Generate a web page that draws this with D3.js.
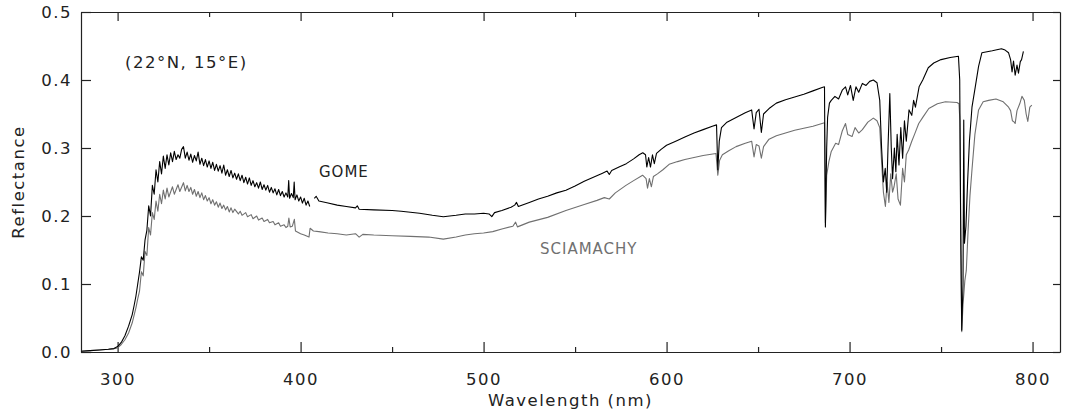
<!DOCTYPE html>
<meta charset="utf-8">
<script src="https://d3js.org/d3.v7.min.js"></script>
<style>
  body { margin: 0; background: #fff; }
  text { font-family: "DejaVu Sans", sans-serif; letter-spacing: 1.5px; fill: #222; }
</style>
<svg id="chart" width="1066" height="410"></svg>
<script>

// Reflectance spectra: [wavelength nm, reflectance]
const gomeSpectrum = [
  [280,0.001],[285,0.002],[290,0.003],[295,0.004],[298,0.005],[300,0.008],[302,0.014],[304,0.024],
  [306,0.038],[308,0.055],[309,0.068],[310,0.082],[311,0.1],[312,0.118],[313,0.14],[314,0.135],
  [315,0.165],[316,0.179],[317,0.215],[318,0.2],[319,0.245],[320,0.232],[321,0.268],[322,0.25],
  [323,0.28],[324,0.262],[325,0.288],[326,0.27],[327,0.29],[328,0.275],[329,0.293],[330,0.28],
  [331,0.295],[332,0.283],[333,0.29],[334,0.285],[335,0.298],[336,0.302],[337,0.285],[338,0.294],
  [339,0.282],[340,0.291],[341,0.279],[342,0.289],[343,0.281],[344,0.294],[345,0.276],[346,0.285],
  [347,0.274],[348,0.283],[349,0.272],[350,0.281],[351,0.27],[352,0.279],[353,0.267],[354,0.276],
  [355,0.266],[356,0.274],[357,0.263],[358,0.275],[359,0.26],[360,0.268],[361,0.258],[362,0.267],
  [363,0.256],[364,0.263],[365,0.254],[366,0.262],[367,0.252],[368,0.26],[369,0.249],[370,0.257],
  [371,0.247],[372,0.256],[373,0.245],[374,0.252],[375,0.243],[376,0.249],[377,0.241],[378,0.25],
  [379,0.239],[380,0.246],[381,0.238],[382,0.245],[383,0.235],[384,0.242],[385,0.234],[386,0.24],
  [387,0.231],[388,0.239],[389,0.23],[390,0.236],[391,0.228],[392,0.234],[393,0.228],[393.5,0.252],
  [394,0.226],[395,0.233],[396,0.227],[396.5,0.25],[397,0.224],[398,0.231],[399,0.222],[400,0.228],
  [401,0.219],[402,0.226],[403,0.216],[404,0.222],[405,0.214],[406,null],[407.5,0.226],
  [408.5,0.229],[410,0.222],[415,0.219],[420,0.216],[425,0.214],[430,0.212],[431,0.215],[432,0.21],
  [440,0.209],[450,0.208],[455,0.207],[465,0.204],[472,0.201],[478,0.199],[485,0.201],[490,0.203],
  [495,0.203],[500,0.204],[503,0.203],[504.5,0.199],[506,0.205],[510,0.208],[515,0.213],[517,0.216],
  [518,0.22],[519,0.214],[525,0.22],[530,0.225],[535,0.229],[540,0.234],[545,0.238],[550,0.244],
  [555,0.251],[560,0.257],[565,0.263],[567.5,0.266],[568.7,0.261],[570,0.267],[574,0.272],[578,0.277],
  [582,0.284],[585,0.29],[587,0.293],[588.5,0.29],[589.2,0.272],[590.2,0.286],[591.2,0.272],[592.3,0.29],
  [593.3,0.277],[594.5,0.292],[597,0.298],[600,0.304],[605,0.31],[610,0.316],[615,0.322],[620,0.327],
  [625,0.332],[627.3,0.334],[628,0.268],[628.8,0.31],[630,0.33],[633,0.338],[638,0.345],[643,0.352],
  [646.5,0.356],[647.8,0.328],[649,0.352],[650.5,0.357],[651.8,0.323],[653,0.35],[656,0.358],[660,0.366],
  [665,0.371],[670,0.375],[675,0.379],[680,0.384],[685,0.389],[686.3,0.39],[686.8,0.184],[687.5,0.3],
  [688,0.345],[689,0.366],[690,0.37],[692,0.376],[694,0.372],[696,0.385],[697.8,0.39],[699,0.378],
  [700.5,0.392],[702,0.37],[703.5,0.39],[705,0.382],[707,0.395],[709,0.392],[711,0.398],[713,0.4],
  [715,0.396],[716.5,0.37],[717.5,0.3],[718.5,0.25],[719.5,0.27],[720.3,0.235],[721,0.3],[722,0.38],
  [722.8,0.3],[723.5,0.255],[724.5,0.3],[725.3,0.265],[726,0.32],[727,0.275],[728,0.33],[729,0.285],
  [730,0.34],[731,0.31],[732.5,0.356],[734,0.348],[735,0.37],[736,0.36],[738,0.39],[740,0.4],
  [743,0.418],[746,0.425],[750,0.43],[755,0.433],[759.5,0.435],[760.2,0.4],[760.7,0.2],[761.3,0.032],
  [762,0.1],[762.4,0.341],[762.8,0.16],[763.6,0.185],[764.5,0.25],[765.5,0.31],[766.9,0.36],[768.7,0.39],
  [770.5,0.42],[772.3,0.44],[778,0.443],[783,0.446],[785,0.444],[786.9,0.44],[788,0.43],[788.8,0.412],
  [789.6,0.428],[790.5,0.407],[791.5,0.422],[792.3,0.41],[793.3,0.427],[794,0.43],[795,0.442]
];

const sciaSpectrum = [
  [280,0.001],[285,0.002],[290,0.003],[295,0.004],[298,0.005],[300,0.006],[302,0.011],[304,0.018],
  [306,0.028],[308,0.043],[310,0.065],[311,0.078],[312,0.09],[313,0.118],[314,0.112],[315,0.148],
  [316,0.142],[317,0.183],[318,0.172],[319,0.205],[320,0.195],[321,0.222],[322,0.207],[323,0.232],
  [324,0.218],[325,0.238],[326,0.225],[327,0.241],[328,0.228],[330,0.243],[331,0.232],[333,0.246],
  [334,0.236],[336,0.249],[337,0.237],[338,0.245],[339,0.236],[340,0.242],[341,0.232],[342,0.239],
  [343,0.229],[344,0.236],[345,0.227],[346,0.234],[347,0.224],[348,0.23],[349,0.222],[350,0.227],
  [351,0.218],[352,0.224],[353,0.216],[354,0.221],[355,0.213],[356,0.219],[357,0.211],[358,0.216],
  [359,0.209],[360,0.214],[361,0.206],[362,0.212],[363,0.205],[364,0.21],[366,0.203],[367,0.207],
  [368,0.201],[370,0.205],[371,0.199],[373,0.202],[374,0.196],[376,0.2],[377,0.194],[379,0.197],
  [380,0.192],[382,0.195],[383,0.19],[385,0.192],[386,0.187],[388,0.19],[389,0.185],[391,0.187],
  [392,0.183],[393,0.185],[393.6,0.197],[394.3,0.184],[395.5,0.185],[396.6,0.195],[397.2,0.178],[400,0.174],
  [402,0.172],[404.6,0.169],[405.2,0.182],[407,0.178],[410,0.177],[415,0.175],[420,0.174],[425,0.172],
  [430,0.174],[432,0.169],[434,0.173],[440,0.172],[450,0.171],[460,0.17],[470,0.169],[478,0.166],
  [485,0.169],[490,0.172],[495,0.174],[500,0.175],[505,0.177],[510,0.181],[516,0.185],[517.5,0.191],
  [518.5,0.184],[525,0.191],[535,0.198],[545,0.208],[555,0.217],[562,0.223],[566,0.227],[568.7,0.225],
  [572,0.234],[577.8,0.245],[582,0.252],[586.9,0.26],[588.8,0.255],[589.6,0.241],[590.6,0.255],[591.7,0.243],
  [592.8,0.258],[595,0.262],[598,0.268],[601.4,0.276],[606,0.28],[610,0.283],[615,0.286],[620,0.289],
  [627,0.292],[628,0.26],[629,0.282],[630.5,0.29],[634,0.296],[638,0.302],[643,0.307],[646.5,0.31],
  [647.8,0.287],[649,0.305],[650.5,0.303],[651.8,0.285],[653,0.302],[656,0.313],[660,0.318],[665,0.322],
  [670,0.326],[675,0.329],[680,0.332],[686.3,0.337],[686.8,0.19],[687.5,0.26],[688.7,0.28],[690,0.295],
  [692.4,0.307],[694,0.305],[696,0.325],[697.8,0.336],[699,0.32],[701.4,0.317],[703,0.33],[705,0.322],
  [707,0.327],[710,0.338],[713,0.344],[715,0.34],[716.5,0.33],[717.5,0.28],[718.5,0.235],[719.6,0.214],
  [720.5,0.25],[721.5,0.22],[722.5,0.262],[723.5,0.235],[724.3,0.243],[725.5,0.262],[726.5,0.225],[727.8,0.216],
  [729,0.27],[730,0.25],[731,0.29],[732.3,0.297],[734,0.31],[735.5,0.32],[737.8,0.336],[740,0.345],
  [743.3,0.358],[748,0.365],[752.4,0.368],[758.7,0.367],[759.8,0.365],[760.3,0.34],[760.8,0.15],[761.3,0.03],
  [762,0.07],[763,0.105],[763.8,0.12],[764.8,0.18],[765.8,0.23],[766.9,0.268],[768.5,0.32],[770.5,0.356],
  [773,0.368],[776,0.37],[780,0.372],[784,0.368],[786.9,0.36],[788,0.355],[789,0.34],[790,0.338],
  [790.5,0.336],[791.5,0.355],[793,0.365],[794.2,0.376],[795.5,0.37],[796.5,0.35],[797.4,0.339],[798.5,0.36],
  [799.6,0.363]
];

const xMajorTicks = [300, 400, 500, 600, 700, 800];
const xMinorTicks = [350, 450, 550, 650, 750];
const yTicks = [0.0, 0.1, 0.2, 0.3, 0.4, 0.5];

const svg = d3.select("#chart");
const margin = {left: 81, right: 6, top: 12, bottom: 58};
const width = +svg.attr("width"), height = +svg.attr("height");
const x0 = margin.left, x1 = width - margin.right;
const y0 = height - margin.bottom, y1 = margin.top;

const x = d3.scaleLinear().domain([280, 815]).range([x0, x1]);
const y = d3.scaleLinear().domain([0, 0.5]).range([y0, y1]);

// axes with inward ticks, box all round
function styleAxis(g) {
  g.selectAll("path, line").attr("stroke", "#222").attr("stroke-width", 1.2);
  g.selectAll("text").attr("font-size", "16.5px").attr("fill", "#222");
}

svg.append("g").attr("transform", `translate(0,${y0})`)
  .call(d3.axisBottom(x).tickValues(xMajorTicks).tickSizeInner(-10).tickSizeOuter(0).tickPadding(21))
  .call(styleAxis);
svg.append("g").attr("transform", `translate(0,${y0})`)
  .call(d3.axisBottom(x).tickValues(xMinorTicks).tickSizeInner(-5).tickSizeOuter(0).tickFormat(""))
  .call(g => g.select(".domain").remove()).call(styleAxis);
svg.append("g").attr("transform", `translate(0,${y1})`)
  .call(d3.axisTop(x).tickValues(xMajorTicks).tickSizeInner(-9).tickSizeOuter(0).tickFormat(""))
  .call(styleAxis);
svg.append("g").attr("transform", `translate(0,${y1})`)
  .call(d3.axisTop(x).tickValues(xMinorTicks).tickSizeInner(-5).tickSizeOuter(0).tickFormat(""))
  .call(g => g.select(".domain").remove()).call(styleAxis);
svg.append("g").attr("transform", `translate(${x0},0)`)
  .call(d3.axisLeft(y).tickValues(yTicks).tickSizeInner(-10).tickSizeOuter(0).tickPadding(9).tickFormat(d3.format(".1f")))
  .call(styleAxis);
svg.append("g").attr("transform", `translate(${x1},0)`)
  .call(d3.axisRight(y).tickValues(yTicks).tickSizeInner(-7).tickSizeOuter(0).tickFormat(""))
  .call(styleAxis);

// spectra
const line = d3.line()
  .defined(d => d[1] !== null)
  .x(d => x(d[0]))
  .y(d => y(d[1]));

svg.append("path").datum(sciaSpectrum)
  .attr("fill", "none").attr("stroke", "#707070").attr("stroke-width", 1.1)
  .attr("stroke-linejoin", "round").attr("d", line);
svg.append("path").datum(gomeSpectrum)
  .attr("fill", "none").attr("stroke", "#000").attr("stroke-width", 1.1)
  .attr("stroke-linejoin", "round").attr("d", line);

// labels
svg.append("text").attr("x", (x0 + x1) / 2).attr("y", 406)
  .attr("text-anchor", "middle").attr("font-size", "16.5px").text("Wavelength (nm)");
svg.append("text").attr("transform", `translate(24,${(y0 + y1) / 2}) rotate(-90)`)
  .attr("text-anchor", "middle").attr("font-size", "16.5px").text("Reflectance");
svg.append("text").attr("x", 125).attr("y", 68).attr("font-size", "16.5px").text("(22°N, 15°E)");
svg.append("text").attr("x", 319).attr("y", 177).attr("font-size", "15px")
  .style("letter-spacing", "1px").text("GOME");
svg.append("text").attr("x", 540).attr("y", 254).attr("font-size", "15px")
  .style("letter-spacing", "1px").style("fill", "#707070").text("SCIAMACHY");

</script>
